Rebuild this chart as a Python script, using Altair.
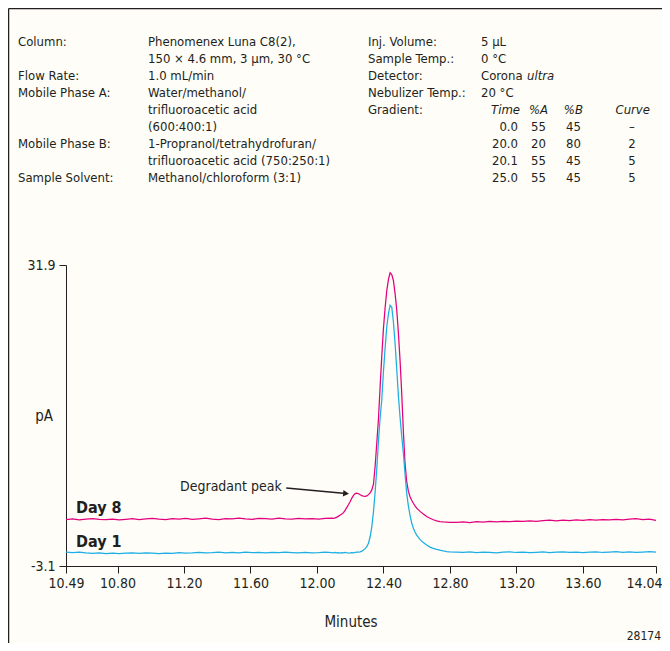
import altair as alt
import pandas as pd

# ---------------- data ----------------
minutes = [
    10.49, 10.53, 10.57, 10.61, 10.65, 10.69, 10.73, 10.77, 10.81, 10.85,
    10.89, 10.93, 10.97, 11.01, 11.05, 11.09, 11.13, 11.17, 11.21, 11.25,
    11.29, 11.33, 11.37, 11.41, 11.45, 11.49, 11.53, 11.57, 11.61, 11.65,
    11.69, 11.73, 11.77, 11.81, 11.85, 11.89, 11.93, 11.97, 12.01, 12.05,
    12.09,
    12.10, 12.11, 12.12, 12.13, 12.14, 12.15, 12.16, 12.17, 12.18, 12.19,
    12.20, 12.21, 12.22, 12.23, 12.24, 12.25, 12.26, 12.27, 12.28, 12.29,
    12.30, 12.31, 12.32, 12.33, 12.34, 12.35, 12.36, 12.37, 12.38, 12.39,
    12.40, 12.41, 12.42, 12.43, 12.44, 12.45, 12.46, 12.47, 12.48, 12.49,
    12.50, 12.51, 12.52, 12.53, 12.54, 12.55, 12.56, 12.57, 12.58, 12.59,
    12.60,
    12.62, 12.64, 12.66, 12.68, 12.70, 12.72, 12.74, 12.76, 12.78, 12.80,
    12.84, 12.88, 12.92, 12.96, 13.00, 13.04, 13.08, 13.12, 13.16, 13.20,
    13.24, 13.28, 13.32, 13.36, 13.40, 13.44, 13.48, 13.52, 13.56, 13.60,
    13.64, 13.68, 13.72, 13.76, 13.80, 13.84, 13.88, 13.92, 13.96, 14.00,
    14.04,
]

day1 = [
    -1.50, -1.55, -1.48, -1.58, -1.62, -1.57, -1.65, -1.60, -1.66, -1.61,
    -1.58, -1.63, -1.56, -1.60, -1.67, -1.59, -1.62, -1.55, -1.60, -1.57,
    -1.52, -1.58, -1.55, -1.49, -1.56, -1.53, -1.58, -1.50, -1.55, -1.52,
    -1.57, -1.51, -1.55, -1.49, -1.54, -1.58, -1.52, -1.56, -1.55, -1.50,
    -1.54,
    -1.56, -1.52, -1.58, -1.55, -1.60, -1.54, -1.57, -1.52, -1.56, -1.60,
    -1.58, -1.55, -1.56, -1.52, -1.50, -1.48, -1.45, -1.38, -1.25, -1.08,
    -0.85, -0.45, 0.30, 1.45, 3.20, 5.50, 8.20, 11.40, 14.10, 16.20,
    19.50, 22.20, 24.70, 26.20, 27.20, 27.00, 25.30, 22.80, 19.80, 16.70,
    14.20, 12.00, 10.00, 7.60, 5.35, 3.90, 2.80, 1.90, 1.30, 0.85,
    0.50,
    0.00, -0.38, -0.66, -0.90, -1.05, -1.16, -1.26, -1.35, -1.42, -1.47,
    -1.50, -1.53, -1.47, -1.55, -1.49, -1.52, -1.58, -1.50, -1.46, -1.53,
    -1.49, -1.55, -1.51, -1.47, -1.54, -1.50, -1.45, -1.52, -1.48, -1.55,
    -1.50, -1.46, -1.53, -1.49, -1.44, -1.51, -1.47, -1.53, -1.48, -1.43,
    -1.50,
]

day8 = [
    2.30, 2.38, 2.27, 2.35, 2.42, 2.31, 2.28, 2.36, 2.25, 2.33,
    2.40, 2.29, 2.37, 2.45, 2.34, 2.30, 2.41, 2.36, 2.44, 2.32,
    2.39, 2.47, 2.35, 2.30, 2.42, 2.38, 2.46, 2.37, 2.33, 2.44,
    2.40, 2.36, 2.48, 2.39, 2.34, 2.43, 2.37, 2.41, 2.35, 2.44,
    2.46,
    2.45, 2.50, 2.58, 2.70, 2.82, 2.95, 3.10, 3.40, 3.72, 4.05,
    4.40, 4.80, 5.12, 5.32, 5.38, 5.30, 5.18, 5.08, 5.02, 5.00,
    5.05, 5.20, 5.40, 5.75, 6.40, 8.50, 11.20, 14.00, 17.70, 21.30,
    24.50, 26.90, 28.90, 30.20, 31.00, 30.80, 30.10, 28.60, 26.70, 24.00,
    20.80, 17.00, 12.50, 8.80, 6.70, 5.60, 4.95, 4.55, 4.20, 3.90,
    3.62,
    3.25, 2.95, 2.66, 2.45, 2.28, 2.14, 2.06, 2.02, 2.00, 1.98,
    1.96, 2.02, 1.95, 2.05, 2.00, 2.08, 2.03, 2.10, 2.05, 2.12,
    2.08, 2.15, 2.10, 2.18, 2.22, 2.16, 2.24, 2.19, 2.26, 2.21,
    2.28, 2.24, 2.30, 2.26, 2.33, 2.27, 2.35, 2.42, 2.30, 2.36,
    2.20,
]

series_names = ["Day 8", "Day 1"]
x_ticks = [10.49, 10.80, 11.20, 11.60, 12.00, 12.40, 12.80, 13.20, 13.60, 14.04]
y_ticks = [-3.1, 31.9]

header_left_labels = ["Column:", "", "Flow Rate:", "Mobile Phase A:", "", "",
                      "Mobile Phase B:", "", "Sample Solvent:"]
header_left_values = ["Phenomenex Luna C8(2),", "150 \u00d7 4.6 mm, 3 \u00b5m, 30 \u00b0C",
                      "1.0 mL/min", "Water/methanol/", "trifluoroacetic acid",
                      "(600:400:1)", "1-Propranol/tetrahydrofuran/",
                      "trifluoroacetic acid (750:250:1)", "Methanol/chloroform (3:1)"]
header_right_labels = ["Inj. Volume:", "Sample Temp.:", "Detector:",
                       "Nebulizer Temp.:", "Gradient:"]
header_right_values = ["5 \u00b5L", "0 \u00b0C", "Corona", "20 \u00b0C"]
detector_italic = "ultra"
gradient_cols = ["Time", "%A", "%B", "Curve"]
gradient_time = ["0.0", "20.0", "20.1", "25.0"]
gradient_a = ["55", "20", "55", "55"]
gradient_b = ["45", "80", "45", "45"]
gradient_curve = ["\u2013", "2", "5", "5"]

arrow_from = (11.815, 5.97)
arrow_to = (12.175, 5.33)

# ---------------- style ----------------
FONT = ("DejaVu Sans Condensed, Liberation Sans Narrow, Noto Sans Condensed, "
        "Roboto, sans-serif")
INK = "#231F20"
MAGENTA = "#E4007C"
CYAN = "#1CAEE4"
BG = "#FEFDF7"
PX0, PY0 = 66, 265          # page position of the plot-area origin
ROW0, ROWH = 42, 17          # header rows (page y of first row centre, spacing)

df = pd.concat([
    pd.DataFrame({"minutes": minutes, "pA": day8, "series": "Day 8"}),
    pd.DataFrame({"minutes": minutes, "pA": day1, "series": "Day 1"}),
])

xscale = alt.Scale(domain=[10.49, 14.04], nice=False, zero=False)
yscale = alt.Scale(domain=[-3.1, 31.9], nice=False, zero=False)
xaxis = alt.Axis(values=x_ticks, format=".2f", title=None, grid=False,
                 tickSize=7, labelFontSize=14, labelPadding=3,
                 domainColor=INK, tickColor=INK, labelColor=INK,
                 labelFont=FONT, labelFlush=False, labelOverlap=False,
                 labelAlign=alt.expr("datum.value > 14 ? 'right' : 'center'"),
                 labelOffset=alt.expr("datum.value > 14 ? 6 : 0"))
yaxis = alt.Axis(values=y_ticks, format=".1f", title=None, grid=False,
                 tickSize=7, labelFontSize=14, labelPadding=4,
                 domainColor=INK, tickColor=INK, labelColor=INK,
                 labelFont=FONT, labelFlush=False, labelOverlap=False,
                 labelExpr="datum.value < 0 ? '-' + format(-datum.value, '.1f') : format(datum.value, '.1f')")

lines = alt.Chart(df).mark_line(strokeWidth=1.25).encode(
    x=alt.X("minutes:Q", scale=xscale, axis=xaxis),
    y=alt.Y("pA:Q", scale=yscale, axis=yaxis),
    color=alt.Color("series:N", scale=alt.Scale(domain=series_names,
                                                range=[MAGENTA, CYAN]), legend=None),
)

one = alt.Data(values=[{}])


def label(text, px, py, size=13, align="left", style="normal", weight="normal"):
    return alt.Chart(one).mark_text(
        text=text, align=align, baseline="middle", fontSize=size,
        fontStyle=style, fontWeight=weight, font=FONT, color=INK,
    ).encode(x=alt.value(px - PX0), y=alt.value(py - PY0))


layers = [lines]

# header block
for i, t in enumerate(header_left_labels):
    if t:
        layers.append(label(t, 18, ROW0 + ROWH * i))
for i, t in enumerate(header_left_values):
    layers.append(label(t, 148, ROW0 + ROWH * i))
for i, t in enumerate(header_right_labels):
    layers.append(label(t, 368, ROW0 + ROWH * i))
for i, t in enumerate(header_right_values):
    layers.append(label(t, 481, ROW0 + ROWH * i))
layers.append(label(detector_italic, 527, ROW0 + ROWH * 2, style="italic"))

grad_hdr_x = [520, 548, 583, 650]
for t, gx in zip(gradient_cols, grad_hdr_x):
    layers.append(label(t, gx, ROW0 + ROWH * 4, align="right", style="italic"))
for i in range(len(gradient_time)):
    r = ROW0 + ROWH * (5 + i)
    layers.append(label(gradient_time[i], 518, r, align="right"))
    layers.append(label(gradient_a[i], 546, r, align="right"))
    layers.append(label(gradient_b[i], 581, r, align="right"))
    layers.append(label(gradient_curve[i], 632, r, align="center"))

# plot annotations
layers.append(label("pA", 53, 416, size=15, align="right"))
layers.append(label("Minutes", 351, 622, size=15, align="center"))
layers.append(label("28174", 661, 636, size=12, align="right"))
layers.append(label("Day 8", 76, 508, size=16, weight="bold"))
layers.append(label("Day 1", 76, 542, size=16, weight="bold"))
layers.append(label("Degradant peak", 180, 487, size=14))

arrow_df = pd.DataFrame({"ax": [arrow_from[0]], "ay": [arrow_from[1]],
                         "bx": [arrow_to[0]], "by": [arrow_to[1]]})
layers.append(alt.Chart(arrow_df).mark_rule(strokeWidth=1.6, color=INK).encode(
    x=alt.X("ax:Q", scale=xscale, axis=xaxis), y=alt.Y("ay:Q", scale=yscale, axis=yaxis),
    x2="bx:Q", y2="by:Q"))
layers.append(alt.Chart(arrow_df).mark_point(
    shape="triangle-right", filled=True, size=45, angle=5, color=INK, opacity=1
).encode(x=alt.X("bx:Q", scale=xscale, axis=xaxis),
         y=alt.Y("by:Q", scale=yscale, axis=yaxis)))

# frame (left and top edges)
layers.append(alt.Chart(one).mark_rule(color=INK, strokeWidth=1.3).encode(
    x=alt.value(-57.4), y=alt.value(-256.4), y2=alt.value(380)))
layers.append(alt.Chart(one).mark_rule(color=INK, strokeWidth=1.3).encode(
    x=alt.value(-57.4), x2=alt.value(600), y=alt.value(-256.4)))

chart = alt.layer(*layers).properties(
    width=590, height=301,
    padding={"left": 58, "top": 257, "right": 6, "bottom": 77},
    autosize=alt.AutoSizeParams(type="none"),
    background=BG,
).configure_view(stroke=None)

chart.save("out.html", embed_options={"renderer": "svg", "actions": False})
